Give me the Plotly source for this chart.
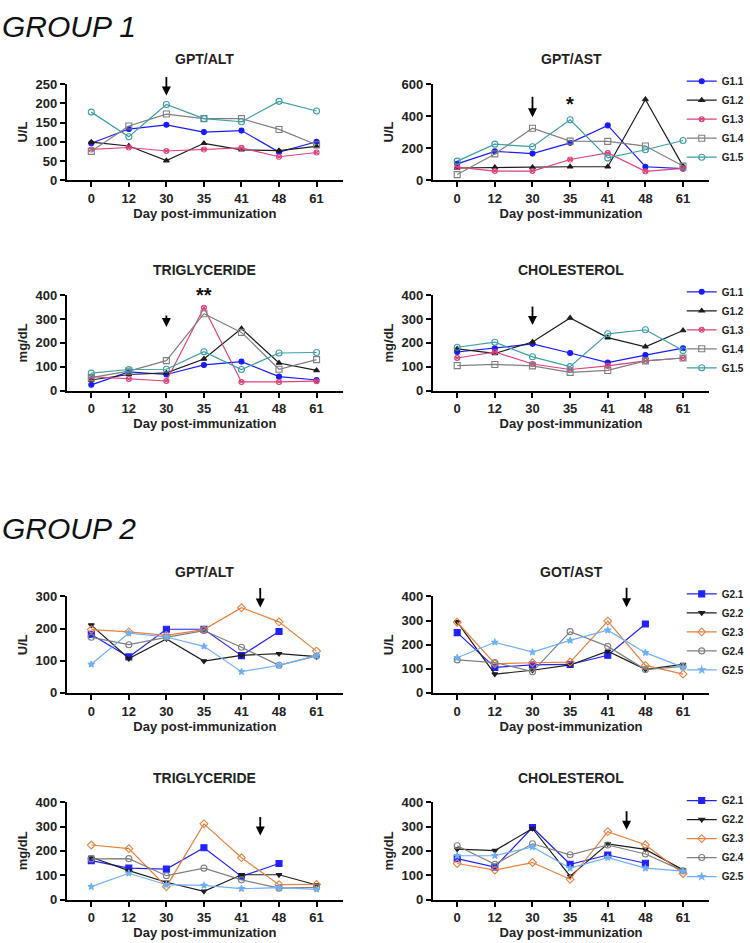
import plotly.graph_objects as go

W, H = 750, 943

days = ["0", "12", "30", "35", "41", "48", "61"]

g1_names = ["G1.1", "G1.2", "G1.3", "G1.4", "G1.5"]
g2_names = ["G2.1", "G2.2", "G2.3", "G2.4", "G2.5"]

# Group 1 values, one list per animal (G1.1 ... G1.5)
g1_alt = [
    [96, 133, 144, 125, 129, 73, 100],
    [99, 89, 51, 96, 79, 77, 88],
    [80, 85, 76, 80, 84, 61, 72],
    [75, 141, 172, 160, 160, 132, 92],
    [177, 113, 197, 160, 152, 205, 180],
]
g1_ast = [
    [102, 180, 166, 233, 342, 84, 72],
    [76, 80, 80, 84, 84, 504, 88],
    [82, 57, 57, 129, 170, 55, 74],
    [35, 164, 324, 244, 242, 213, 88],
    [119, 225, 209, 377, 139, 190, 248],
]
g1_tg = [
    [25, 79, 68, 108, 122, 59, 45],
    [45, 68, 75, 133, 260, 116, 85],
    [59, 49, 41, 347, 37, 37, 40],
    [55, 82, 126, 322, 244, 90, 130],
    [74, 89, 90, 163, 89, 158, 160],
]
g1_chol = [
    [162, 178, 196, 158, 118, 149, 178],
    [175, 156, 204, 304, 222, 184, 252],
    [137, 162, 112, 89, 104, 125, 137],
    [105, 110, 104, 77, 85, 125, 137],
    [182, 203, 142, 101, 238, 255, 168],
]

# Group 2 values, one list per animal (G2.1 ... G2.5)
g2_alt = [
    [182, 112, 198, 198, 116, 191, None],
    [211, 107, 168, 99, 117, 122, 113],
    [197, 190, 179, 197, 265, 221, 130],
    [173, 150, 173, 194, 142, 86, 115],
    [89, 186, 174, 145, 66, 86, 116],
]
g2_ast = [
    [250, 106, 116, 118, 156, 286, None],
    [295, 78, 94, 116, 173, 98, 118],
    [293, 121, 125, 128, 298, 114, 78],
    [137, 126, 88, 254, 193, 97, 110],
    [146, 210, 169, 218, 260, 167, 106],
]
g2_tg = [
    [160, 129, 125, 213, 95, 148, None],
    [174, 119, 71, 34, 102, 102, 60],
    [224, 209, 53, 311, 172, 61, 62],
    [167, 168, 98, 129, 81, 47, 50],
    [53, 108, 61, 58, 45, 49, 42],
]
g2_chol = [
    [168, 133, 296, 145, 183, 149, None],
    [207, 201, 292, 96, 229, 206, 122],
    [148, 121, 152, 83, 279, 225, 107],
    [221, 145, 229, 184, 224, 187, 118],
    [180, 180, 216, 129, 172, 129, 117],
]

panel_titles = ["GPT/ALT", "GPT/AST", "TRIGLYCERIDE", "CHOLESTEROL",
                "GPT/ALT", "GOT/AST", "TRIGLYCERIDE", "CHOLESTEROL"]
y_titles = ["U/L", "U/L", "mg/dL", "mg/dL", "U/L", "U/L", "mg/dL", "mg/dL"]
y_max = [250, 600, 400, 400, 300, 400, 400, 400]
y_step = [50, 200, 100, 100, 100, 100, 100, 100]

# ---- styles ----
g1_styles = [
    dict(color="#1a1aff", symbol="circle", size=5),
    dict(color="#1c1c1c", symbol="triangle-up", size=5),
    dict(color="#e0407c", symbol="circle-x-open", size=5),
    dict(color="#7f7f7f", symbol="square-open", size=6),
    dict(color="#3c9ea6", symbol="circle-open", size=6),
]
g2_styles = [
    dict(color="#2222ff", symbol="square", size=6),
    dict(color="#1c1c1c", symbol="triangle-down", size=5),
    dict(color="#e8803e", symbol="diamond-open", size=6),
    dict(color="#7f7f7f", symbol="circle-open", size=6),
    dict(color="#6fb0f5", symbol="star", size=5),
]

FONT = "Liberation Sans"

def ydom(top, bottom):
    return [1 - bottom / H, 1 - top / H]

def xdom(l, r):
    return [l / W, r / W]

x_doms = [xdom(67.7, 347), xdom(438, 718)]
row_px = [(78.3, 176), (292.7, 390), (599, 697), (808, 907)]

fig = go.Figure()

panels = [g1_alt, g1_ast, g1_tg, g1_chol, g2_alt, g2_ast, g2_tg, g2_chol]
legend_for = {1: "legend", 3: "legend2", 5: "legend3", 7: "legend4"}

for i, data in enumerate(panels):
    names = g1_names if i < 4 else g2_names
    styles = g1_styles if i < 4 else g2_styles
    ax = "" if i == 0 else str(i + 1)
    for name, vals, st in zip(names, data, styles):
        fig.add_trace(go.Scatter(
            x=days, y=vals, name=name, mode="lines+markers",
            line=dict(color=st["color"], width=1.2),
            marker=dict(color=st["color"], symbol=st["symbol"], size=st["size"],
                        line=dict(color=st["color"], width=1.1)),
            connectgaps=False, cliponaxis=False,
            xaxis="x" + ax, yaxis="y" + ax,
            showlegend=(i in legend_for),
            legend=legend_for.get(i, "legend"),
        ))

axis_common = dict(showline=True, linecolor="black", linewidth=2, ticks="outside",
                   ticklen=5, tickwidth=2, tickcolor="black", showgrid=False,
                   zeroline=False, tickfont=dict(family=FONT, size=13, color="#222", weight="bold"))

for i in range(8):
    r, c = divmod(i, 2)
    top, bot = row_px[r]
    ax = "" if i == 0 else str(i + 1)
    fig.update_layout({
        "xaxis" + ax: dict(domain=x_doms[c], anchor="y" + ax, type="category",
                           range=[-0.65, 6.7],
                           title=dict(text="Day post-immunization", standoff=3,
                                      font=dict(family=FONT, size=13, color="#222", weight="bold")),
                           **axis_common),
        "yaxis" + ax: dict(domain=ydom(top, bot), anchor="x" + ax,
                           range=[0, y_max[i]], tickmode="linear", tick0=0, dtick=y_step[i],
                           title=dict(text=y_titles[i], standoff=5,
                                      font=dict(family=FONT, size=13, color="#222", weight="bold")),
                           **axis_common),
    })

annotations = []
# panel titles
for i in range(8):
    r, c = divmod(i, 2)
    top, bot = row_px[r]
    xc = (x_doms[c][0] + x_doms[c][1]) / 2
    annotations.append(dict(text="<b>" + panel_titles[i] + "</b>", x=xc, y=1 - (top - 25) / H,
                            xref="paper", yref="paper", showarrow=False,
                            xanchor="center", yanchor="middle",
                            font=dict(family=FONT, size=14, color="#222")))

# group labels
for txt, ypx in [("GROUP 1", 20), ("GROUP 2", 530)]:
    annotations.append(dict(text="<i>" + txt + "</i>", x=0, y=1 - ypx / H, xref="paper", yref="paper",
                            showarrow=False, xanchor="left", yanchor="middle",
                            font=dict(family=FONT, size=30, color="#111")))

# immunization arrows (panel index, x position, tip value, length px)
arrows = [(0, 2, 220, 20), (1, 2, 393, 22), (2, 2, 267, 13), (3, 2, 275, 20),
          (4, 4.5, 266, 21), (5, 4.5, 355, 21), (6, 4.5, 263, 20), (7, 4.5, 287, 20)]
for i, xv, yv, ln in arrows:
    ax = "" if i == 0 else str(i + 1)
    annotations.append(dict(x=xv, y=yv, xref="x" + ax, yref="y" + ax, text="",
                            showarrow=True, arrowhead=2, arrowsize=1.0, arrowwidth=1.8,
                            arrowcolor="black", ax=0, ay=-ln))

# significance stars
for i, yv, txt in [(1, 478, "*"), (2, 400, "**")]:
    ax = "" if i == 0 else str(i + 1)
    annotations.append(dict(x=3, y=yv, xref="x" + ax, yref="y" + ax, text="<b>" + txt + "</b>",
                            showarrow=False, yanchor="middle",
                            font=dict(family=FONT, size=20, color="#111")))

fig.update_layout(annotations=annotations)

leg_common = dict(x=690 / W, xanchor="left", yanchor="middle", bgcolor="rgba(0,0,0,0)",
                  font=dict(family=FONT, size=10, color="#222", weight="bold"),
                  itemwidth=30, tracegroupgap=0)
fig.update_layout(
    legend=dict(y=1 - 114 / H, **leg_common),
    legend2=dict(y=1 - 328 / H, **leg_common),
    legend3=dict(y=1 - 635 / H, **leg_common),
    legend4=dict(y=1 - 845 / H, **leg_common),
)

fig.update_layout(width=W, height=H, margin=dict(l=0, r=0, t=0, b=0),
                  paper_bgcolor="white", plot_bgcolor="white",
                  font=dict(family=FONT, color="#222"))

fig.write_html("out.html")
